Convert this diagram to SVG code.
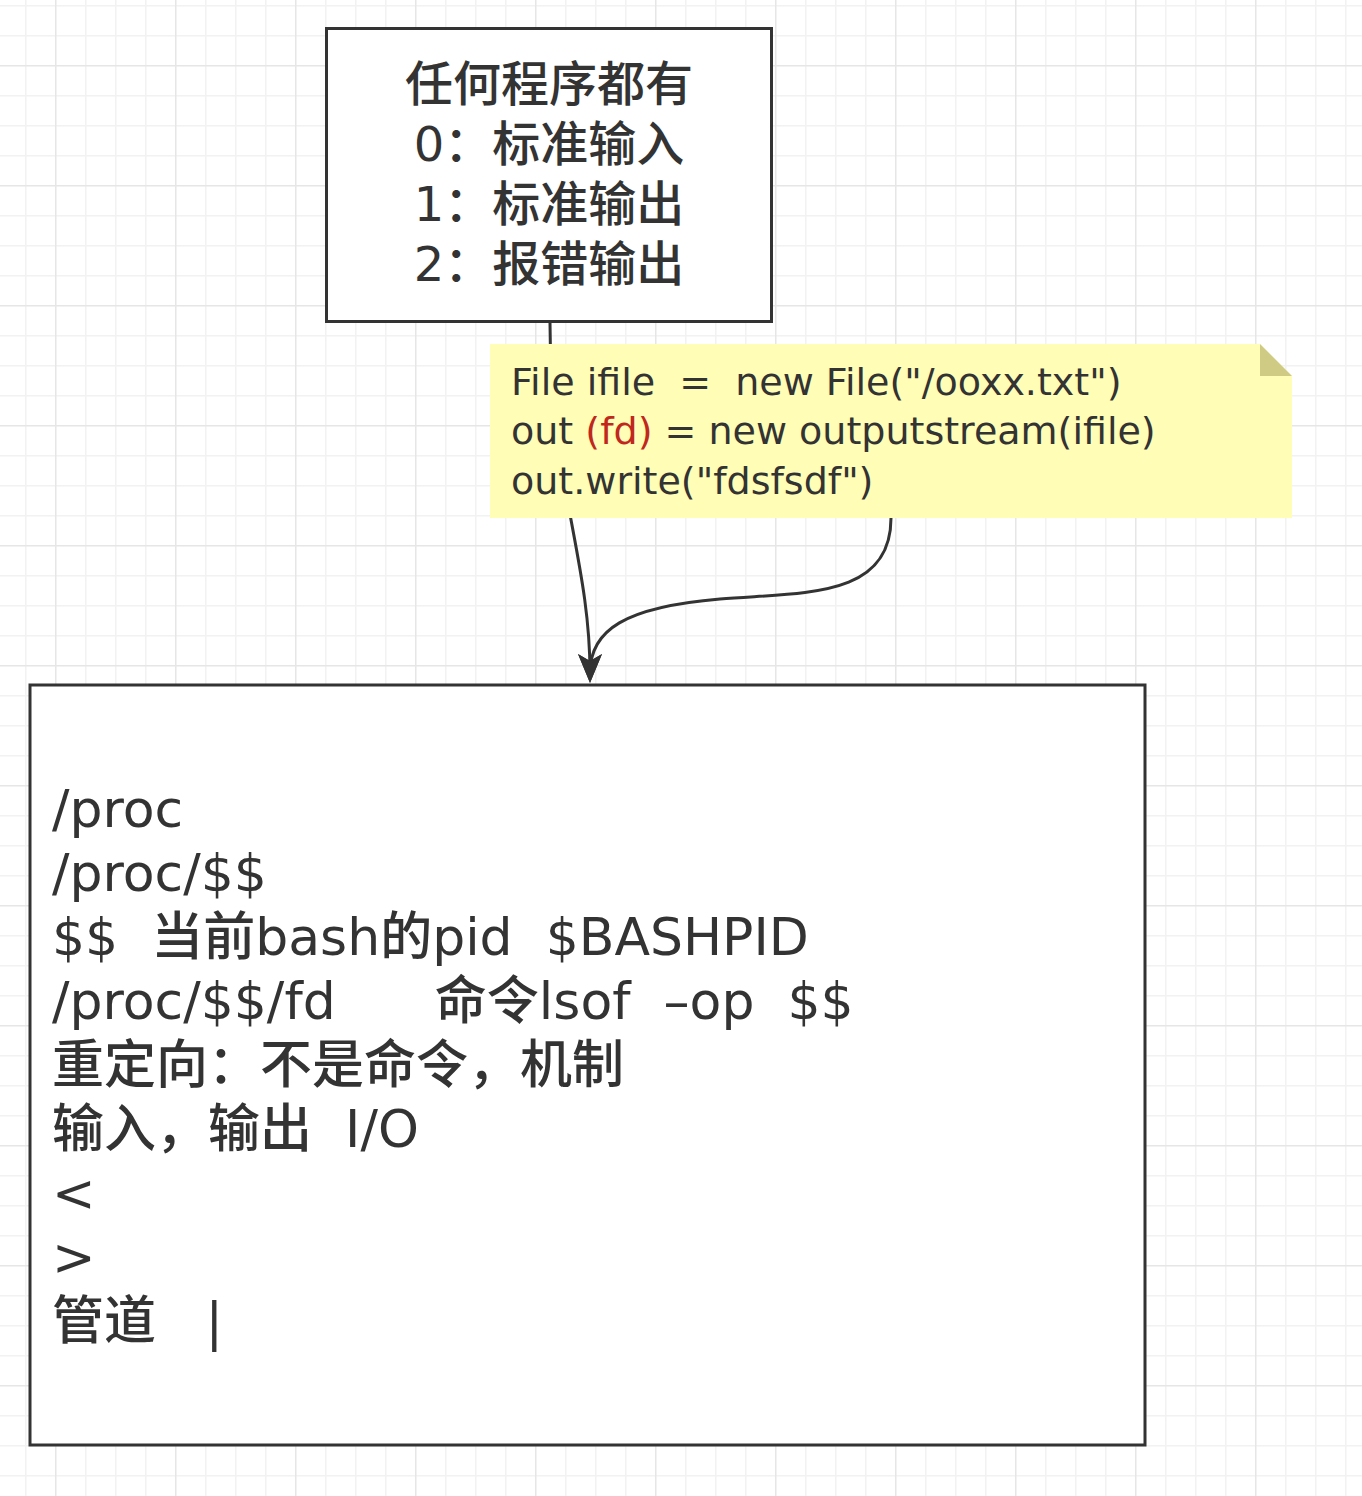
<svg xmlns="http://www.w3.org/2000/svg" width="1362" height="1496" viewBox="0 0 1362 1496">
<style>
  .box { fill: #ffffff; stroke: #333333; stroke-width: 3; }
  .txt { fill: #333333; font-family: "DejaVu Sans", "Noto Sans CJK SC", sans-serif; font-weight: 500; white-space: pre; }
  .mid { text-anchor: middle; }
  .conn { fill: none; stroke: #333333; stroke-width: 3; }
  .red { fill: #c0281e; }
</style>
<defs>
  <pattern id="grid" patternUnits="userSpaceOnUse" x="55" y="65" width="120" height="120">
    <rect x="0" y="0" width="120" height="120" fill="#ffffff"/>
    <g fill="#f2f2f2">
      <rect x="30" y="0" width="1.5" height="120"/>
      <rect x="60" y="0" width="1.5" height="120"/>
      <rect x="90" y="0" width="1.5" height="120"/>
      <rect x="0" y="30" width="120" height="1.5"/>
      <rect x="0" y="60" width="120" height="1.5"/>
      <rect x="0" y="90" width="120" height="1.5"/>
    </g>
    <g fill="#e6e6e6">
      <rect x="0" y="0" width="1.5" height="120"/>
      <rect x="0" y="0" width="120" height="1.5"/>
    </g>
  </pattern>
  <marker id="arrow" markerUnits="userSpaceOnUse" markerWidth="32" markerHeight="32" viewBox="0 0 32 32" refX="19" refY="16" orient="auto">
    <path d="M0,4 L29,16 L0,28 L7,16 Z" fill="#333333"/>
  </marker>
</defs>
<rect x="0" y="0" width="1362" height="1496" fill="url(#grid)"/>

<g id="connectors">
  <path class="conn" d="M550,323 C550,480 590,560 590,673" marker-end="url(#arrow)"/>
  <path class="conn" d="M891,518 C891,600 800,592 720,599 C625,607 590,630 590,673" marker-end="url(#arrow)"/>
</g>

<g id="node-top">
  <rect class="box" x="326.5" y="28.5" width="445" height="293"/>
  <text class="txt mid" font-size="48" x="549" y="101">任何程序都有</text>
  <text class="txt mid" font-size="48" x="549" y="161">0：标准输入</text>
  <text class="txt mid" font-size="48" x="549" y="221">1：标准输出</text>
  <text class="txt mid" font-size="48" x="549" y="281">2：报错输出</text>
</g>

<g id="node-note">
  <path d="M490,344 H1260 L1292,376 V518 H490 Z" fill="#fffdb6"/>
  <path d="M1260,344 L1292,376 H1260 Z" fill="#cfcb85"/>
  <text class="txt" font-size="38" x="511" y="395">File ifile  =  new File("/ooxx.txt")</text>
  <text class="txt" font-size="38" x="511" y="444">out <tspan class="red">(fd)</tspan> = new outputstream(ifile)</text>
  <text class="txt" font-size="38" x="511" y="494">out.write("fdsfsdf")</text>
</g>

<g id="node-bottom">
  <rect class="box" x="30" y="685" width="1115" height="760"/>
  <text class="txt" font-size="52" x="52" y="827">/proc</text>
  <text class="txt" font-size="52" x="52" y="891">/proc/$$</text>
  <text class="txt" font-size="52" x="52" y="955">$$  当前bash的pid  $BASHPID</text>
  <text class="txt" font-size="52" x="52" y="1019">/proc/$$/fd      命令lsof  –op  $$</text>
  <text class="txt" font-size="52" x="52" y="1083">重定向：不是命令，机制</text>
  <text class="txt" font-size="52" x="52" y="1147">输入，输出  I/O</text>
  <text class="txt" font-size="52" x="52" y="1211">&lt;</text>
  <text class="txt" font-size="52" x="52" y="1275">&gt;</text>
  <text class="txt" font-size="52" x="52" y="1339">管道   |</text>
</g>
</svg>
